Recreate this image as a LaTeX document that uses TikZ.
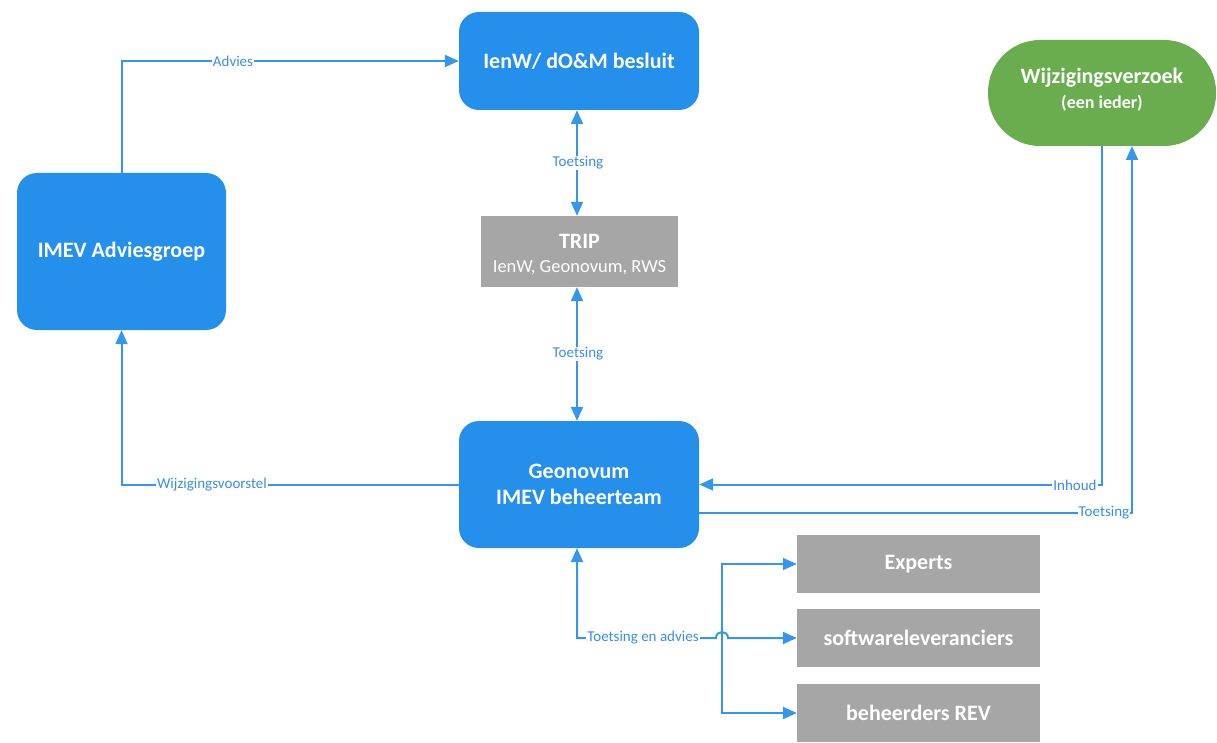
\documentclass[tikz,border=0pt]{standalone}
\usepackage{fontspec}
\setmainfont{Carlito}
\usetikzlibrary{arrows.meta}
\definecolor{boxblue}{RGB}{36,144,236}
\definecolor{lineblue}{RGB}{52,150,238}
\definecolor{txtblue}{RGB}{58,143,224}
\definecolor{boxgreen}{RGB}{106,173,79}
\definecolor{boxgray}{RGB}{166,166,166}
\tikzset{
  bluebox/.style={draw=none, fill=boxblue, rounded corners=20pt, text=white, font=\bfseries\fontsize{22}{26}\selectfont, align=center, inner sep=0pt},
  graybox/.style={draw=none, fill=boxgray, text=white, font=\bfseries\fontsize{22}{26}\selectfont, align=center, inner sep=0pt},
  conn/.style={draw=lineblue, line width=2pt, -{Triangle[length=14pt,width=12pt]}},
  conn2/.style={draw=lineblue, line width=2pt, {Triangle[length=14pt,width=12pt]}-{Triangle[length=14pt,width=12pt]}},
  lbl/.style={fill=white, text=txtblue, font=\fontsize{15}{17}\selectfont, inner sep=1pt}
}
\begin{document}
\begin{tikzpicture}[x=1pt,y=-1pt]
\useasboundingbox (0,0) rectangle (1217,743);
% boxes
\node[bluebox, minimum width=240pt, minimum height=98pt] (ienw) at (579,61) {IenW/ dO\&M besluit};
\node[draw=none, fill=boxgreen, rounded corners=52pt, inner sep=0pt, minimum width=228pt, minimum height=106pt] (wv) at (1102,93) {};
\node[text=white, font=\bfseries\fontsize{22}{26}\selectfont] (wvt) at (1102,78) {Wijzigingsverzoek};
\node[text=white, font=\bfseries\fontsize{18}{21}\selectfont] (wvs) at (1102,103) {(een ieder)};
\node[bluebox, minimum width=209pt, minimum height=157pt] (adv) at (121.5,251.5) {IMEV Adviesgroep};
\node[graybox, minimum width=197pt, minimum height=71pt] (trip) at (579.5,251.5) {};
\node[text=white, font=\bfseries\fontsize{22}{26}\selectfont] (tript) at (579.5,241) {TRIP};
\node[text=white, font=\fontsize{18.5}{22}\selectfont] (trips) at (579.5,268) {IenW, Geonovum, RWS};
\node[bluebox, minimum width=240pt, minimum height=127pt] (geo) at (579,484.5) {Geonovum\\IMEV beheerteam};
\node[graybox, minimum width=243pt, minimum height=58pt] (exp) at (918.5,564) {Experts};
\node[graybox, minimum width=243pt, minimum height=58pt] (sw) at (918.5,638) {softwareleveranciers};
\node[graybox, minimum width=243pt, minimum height=58pt] (beh) at (918.5,713) {beheerders REV};
% connectors
\draw[conn] (adv.north) |- (ienw.west);
\node[lbl] (l1) at (233,61) {Advies};
\draw[conn2] (ienw.south -| 577,0) -- (trip.north -| 577,0);
\node[lbl] (l2) at (578,163) {Toetsing};
\draw[conn2] (trip.south -| 577,0) -- (geo.north -| 577,0);
\node[lbl] (l3) at (578,354) {Toetsing};
\draw[conn] (geo.west) -| (adv.south);
\node[lbl] (l4) at (212,485) {Wijzigingsvoorstel};
\draw[conn] (wv.south) |- (geo.east);
\node[lbl] (l5) at (1075,485) {Inhoud};
\coordinate (tA) at (699,513);
\coordinate (tB) at (1132,146);
\draw[conn] (tA) -| (tB);
\node[lbl] (l6) at (1104,513) {Toetsing};
% toetsing en advies
\coordinate (bus) at (722,638);
\coordinate (jl) at (716,638);
\coordinate (jr) at (728,638);
\draw[conn2] (geo.south -| 577,0) |- (jl) .. controls (716,630) and (728,630) .. (jr) -- (sw.west);
\draw[conn] (bus) |- (exp.west);
\draw[conn] (bus) |- (beh.west);
\node[lbl] (l7) at (643,638) {Toetsing en advies};
\end{tikzpicture}
\end{document}
